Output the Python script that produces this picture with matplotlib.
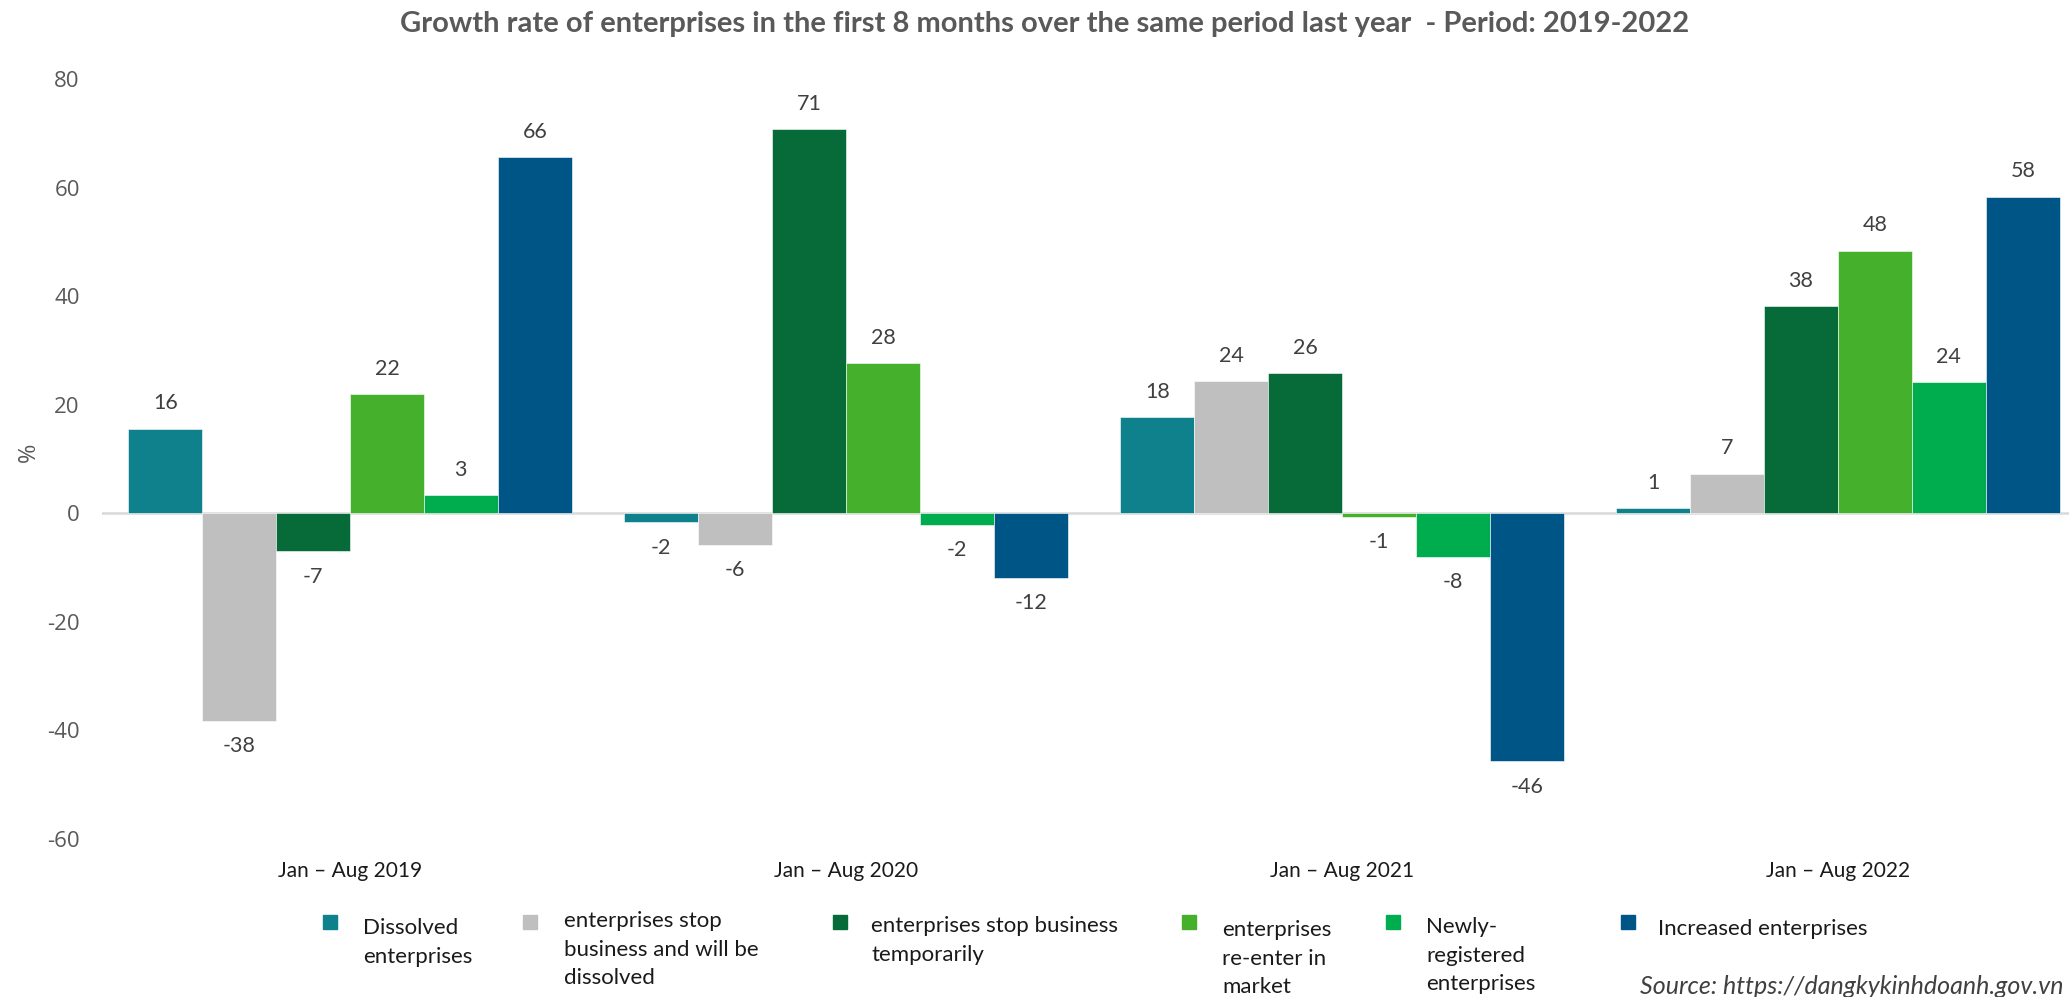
import numpy as np
import matplotlib
matplotlib.use("Agg")
from matplotlib import pyplot as plt
from matplotlib.patches import Rectangle

plt.rcParams['font.family'] = ['Lato', 'DejaVu Sans']
plt.rcParams['axes.unicode_minus'] = False

# data
periods = ["Jan \u2013 Aug 2019", "Jan \u2013 Aug 2020", "Jan \u2013 Aug 2021", "Jan \u2013 Aug 2022"]
series_names = ["Dissolved\nenterprises",
                "enterprises stop\nbusiness and will be\ndissolved",
                "enterprises stop business\ntemporarily",
                "enterprises\nre-enter in\nmarket",
                "Newly-\nregistered\nenterprises",
                "Increased enterprises"]
dissolved = [15.6, -1.7, 17.7, 1.0]
stop_dissolved = [-38.2, -5.8, 24.3, 7.3]
stop_temp = [-7.0, 70.7, 25.8, 38.2]
reenter = [21.9, 27.7, -0.6, 48.4]
newly = [3.4, -2.2, -8.0, 24.1]
increased = [65.6, -11.9, -45.7, 58.3]

colors = ["#0E818C", "#BFBFBF", "#066B38", "#45B02C", "#00AD4E", "#005587"]
series = [dissolved, stop_dissolved, stop_temp, reenter, newly, increased]

fig = plt.figure(figsize=(20.69, 9.97), dpi=100)
ax = fig.add_axes([0.0493, 0.1585, 0.9589, 0.7623])

x = np.arange(len(periods))
w = 0.149
for i, vals in enumerate(series):
    bars = ax.bar(x + (i - 2.5) * w, vals, w, color=colors[i],
                  edgecolor="white", linewidth=0.4, zorder=3)
    ax.bar_label(bars, labels=[f"{v:.0f}" for v in vals], padding=11,
                 fontsize=15.5, color="#404040")

ax.axhline(0, color="#D9D9D9", linewidth=1.8, zorder=2)
ax.set_xlim(-0.5, 3.5)
ax.set_ylim(-60, 80)
ax.set_yticks(np.arange(-60, 81, 20))
ax.set_xticks(x)
ax.set_xticklabels(periods, fontsize=15, color="#1a1a1a")
ax.tick_params(axis="x", length=0, pad=16)
ax.tick_params(axis="y", length=0, pad=16, labelsize=16, labelcolor="#595959")
for lab in ax.get_yticklabels():
    lab.set_family(["Open Sans", "DejaVu Sans"])
for sp in ax.spines.values():
    sp.set_visible(False)
ax.set_ylabel("%", fontsize=17, color="#595959", family=["Open Sans", "DejaVu Sans"])
ax.yaxis.set_label_coords(-0.031, 0.509)

fig.text(0.505, 0.976, "Growth rate of enterprises in the first 8 months over the same period last year  - Period: 2019-2022",
         ha="center", va="center", fontsize=21, fontweight="bold", color="#595959")

# legend drawn by hand to follow the reference layout
W, H = 2069, 997
mk_x = [323, 523, 833, 1182, 1386, 1621]
tx_x = [363, 564, 871, 1222, 1426, 1658]
ty0 = [928, 921, 926, 930, 927, 929]
for i, name in enumerate(series_names):
    fig.patches.append(Rectangle((mk_x[i] / W, 1 - 929 / H), 14 / W, 14 / H,
                                 transform=fig.transFigure, color=colors[i]))
    for k, line in enumerate(name.split("\n")):
        fig.text(tx_x[i] / W, 1 - (ty0[i] + k * 28.5) / H, line, ha="left", va="center",
                 fontsize=16, color="#1a1a1a")

fig.text(1640 / W, 1 - 986 / H, "Source: https://dangkykinhdoanh.gov.vn", ha="left", va="center",
         fontsize=18, style="italic", color="#404040")

fig.savefig("out.png", dpi=100)
